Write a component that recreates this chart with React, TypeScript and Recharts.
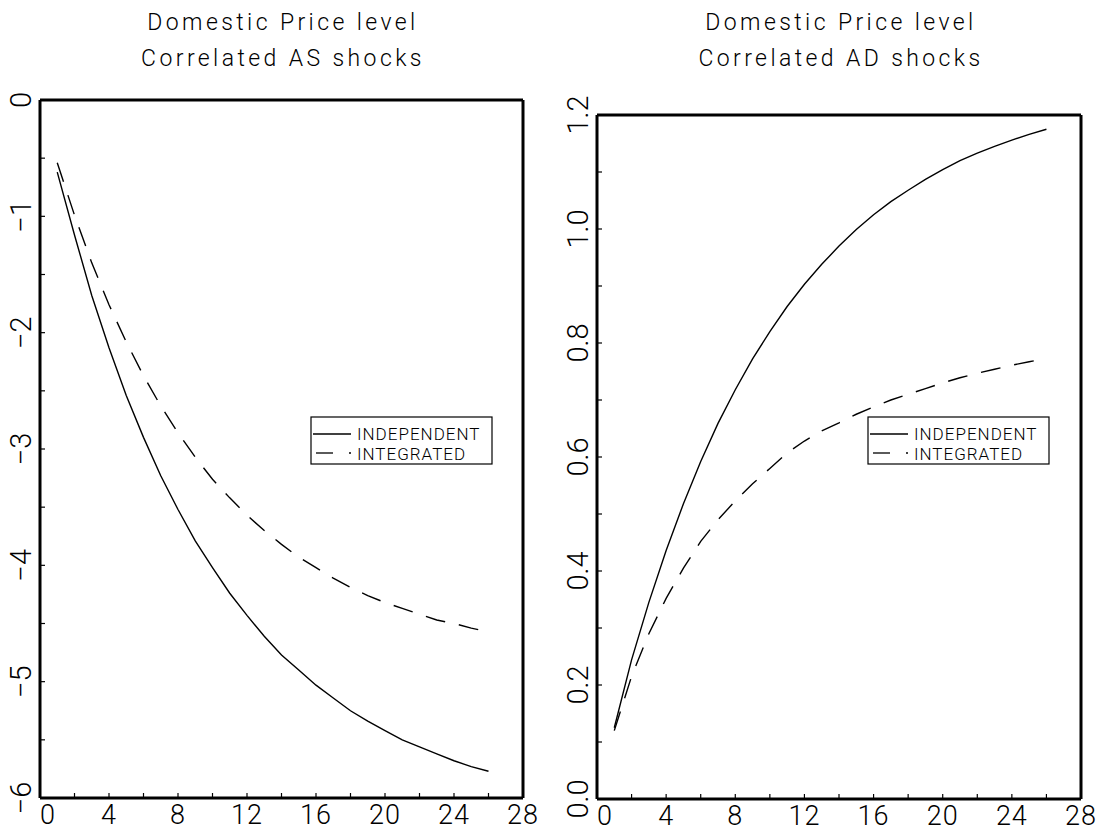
import { LineChart, Line, XAxis, YAxis } from 'recharts'

const periods = [1, 2, 3, 4, 5, 6, 7, 8, 9, 10, 11, 12, 13, 14, 15, 16, 17, 18, 19, 20, 21, 22, 23, 24, 25, 26]

// Correlated AS shocks
const asIndependent = [-0.62, -1.16, -1.68, -2.13, -2.54, -2.9, -3.23, -3.52, -3.79, -4.02, -4.24, -4.43, -4.61, -4.77, -4.9, -5.03, -5.14, -5.25, -5.34, -5.42, -5.5, -5.56, -5.62, -5.68, -5.73, -5.77]
const asIntegrated = [-0.54, -0.99, -1.4, -1.76, -2.08, -2.37, -2.63, -2.86, -3.07, -3.26, -3.42, -3.57, -3.7, -3.82, -3.93, -4.02, -4.11, -4.19, -4.26, -4.32, -4.37, -4.42, -4.47, -4.5, -4.54, -4.57]

// Correlated AD shocks
const adIndependent = [0.125, 0.244, 0.345, 0.436, 0.518, 0.592, 0.659, 0.718, 0.772, 0.82, 0.864, 0.903, 0.938, 0.97, 0.999, 1.025, 1.048, 1.068, 1.087, 1.104, 1.12, 1.133, 1.145, 1.156, 1.166, 1.175]
const adIntegrated = [0.12, 0.215, 0.29, 0.352, 0.405, 0.452, 0.49, 0.523, 0.553, 0.58, 0.607, 0.628, 0.646, 0.66, 0.675, 0.688, 0.7, 0.71, 0.72, 0.73, 0.739, 0.747, 0.754, 0.761, 0.767, 0.773]

const xTicks = [0, 2, 4, 6, 8, 10, 12, 14, 16, 18, 20, 22, 24, 26, 28]
const asTicks = [-6, -5.5, -5, -4.5, -4, -3.5, -3, -2.5, -2, -1.5, -1, -0.5, 0]
const adTicks = [0, 0.1, 0.2, 0.3, 0.4, 0.5, 0.6, 0.7, 0.8, 0.9, 1.0, 1.1, 1.2]

const seriesNames = ['INDEPENDENT', 'INTEGRATED']

const FONT = 'Roboto, "DejaVu Sans", sans-serif'
const DASH = '20 14'

function rows(a: number[], b: number[]) {
  return periods.map((t, i) => ({ t, independent: a[i], integrated: b[i] }))
}

function XTick(props: any) {
  const { x, y, payload } = props
  const v = payload.value
  if (v % 4 !== 0) return null
  return (
    <text x={x + (v === 0 ? 8 : 0)} y={y} textAnchor="middle" fontSize={27} fontFamily={FONT} fontWeight={300} letterSpacing={1} fill="#000">
      {v}
    </text>
  )
}

function YTick(props: any) {
  const { x, y, payload, labelled, fmt } = props
  const v = payload.value
  if (!labelled(v)) return null
  return (
    <text x={x} y={y} transform={`rotate(-90, ${x}, ${y})`} textAnchor="middle" dominantBaseline="central" fontSize={29} fontFamily={FONT} fontWeight={300} fill="#000">
      {fmt(v)}
    </text>
  )
}

function Panel(props: any) {
  const { left, width, margin, xHeight, yWidth, data, domain, yTicks, labelled, fmt } = props
  const frame = { stroke: '#000', strokeWidth: 3 }
  const tickLine = { stroke: '#000', strokeWidth: 1.2 }
  return (
    <div style={{ position: 'absolute', left, top: 0 }}>
      <LineChart width={width} height={831} data={data} margin={margin}>
        <XAxis xAxisId="b" dataKey="t" type="number" domain={[0, 28]} ticks={xTicks} interval={0} height={xHeight}
          axisLine={frame} tickLine={tickLine} tickSize={-5} tickMargin={31} tick={<XTick />} />
        <XAxis xAxisId="t" orientation="top" dataKey="t" type="number" domain={[0, 28]} ticks={xTicks} interval={0} height={1}
          axisLine={frame} tickLine={tickLine} tickSize={-5} tick={false} />
        <YAxis yAxisId="l" type="number" domain={domain} ticks={yTicks} interval={0} width={yWidth}
          axisLine={frame} tickLine={tickLine} tickSize={-5} tickMargin={24} tick={<YTick labelled={labelled} fmt={fmt} />} />
        <YAxis yAxisId="r" orientation="right" type="number" domain={domain} ticks={yTicks} interval={0} width={1}
          axisLine={frame} tickLine={tickLine} tickSize={-5} tick={false} />
        <Line xAxisId="b" yAxisId="l" dataKey="independent" stroke="#000" strokeWidth={1.4} dot={false} isAnimationActive={false} />
        <Line xAxisId="b" yAxisId="l" dataKey="integrated" stroke="#000" strokeWidth={1.4} strokeDasharray={DASH} dot={false} isAnimationActive={false} />
      </LineChart>
    </div>
  )
}

function LegendBox({ x, y }: { x: number; y: number }) {
  return (
    <g>
      <rect x={x} y={y} width={181} height={47} fill="#fff" stroke="#000" strokeWidth={1.2} />
      <line x1={x + 2} x2={x + 40} y1={y + 17} y2={y + 17} stroke="#000" strokeWidth={1.3} />
      <line x1={x + 5} x2={x + 22} y1={y + 36} y2={y + 36} stroke="#000" strokeWidth={1.3} />
      <line x1={x + 38} x2={x + 40} y1={y + 36} y2={y + 36} stroke="#000" strokeWidth={1.3} />
      <text x={x + 46} y={y + 23} fontSize={17} fontFamily={FONT} fontWeight={300} letterSpacing={1} fill="#000">{seriesNames[0]}</text>
      <text x={x + 46} y={y + 43} fontSize={17} fontFamily={FONT} fontWeight={300} letterSpacing={1} fill="#000">{seriesNames[1]}</text>
    </g>
  )
}

export default function App() {
  const titleStyle = { fontSize: 23, fontFamily: FONT, fontWeight: 300, letterSpacing: 3.4 }
  return (
    <div style={{ position: 'absolute', left: 0, top: 0, width: 1106, height: 831, background: '#fff', overflow: 'hidden' }}>
      <Panel left={0} width={553} margin={{ top: 99, right: 29, bottom: 0, left: 0 }} xHeight={33} yWidth={40}
        data={rows(asIndependent, asIntegrated)} domain={[-6, 0]} yTicks={asTicks}
        labelled={(v: number) => Number.isInteger(v)} fmt={(v: number) => (v < 0 ? '\u2212' + Math.abs(v) : String(v))} />
      <Panel left={553} width={553} margin={{ top: 114, right: 24, bottom: 0, left: 0 }} xHeight={32} yWidth={44}
        data={rows(adIndependent, adIntegrated)} domain={[0, 1.2]} yTicks={adTicks}
        labelled={(v: number) => Math.round(v * 10) % 2 === 0} fmt={(v: number) => v.toFixed(1)} />
      <svg width={1106} height={831} style={{ position: 'absolute', left: 0, top: 0, pointerEvents: 'none' }}>
        <g textAnchor="middle" fill="#000" style={titleStyle}>
          <text x={283} y={30}>Domestic Price level</text>
          <text x={283} y={66}>Correlated AS shocks</text>
          <text x={841} y={30}>Domestic Price level</text>
          <text x={841} y={66}>Correlated AD shocks</text>
        </g>
        <LegendBox x={311} y={417} />
        <LegendBox x={868} y={417} />
      </svg>
    </div>
  )
}
